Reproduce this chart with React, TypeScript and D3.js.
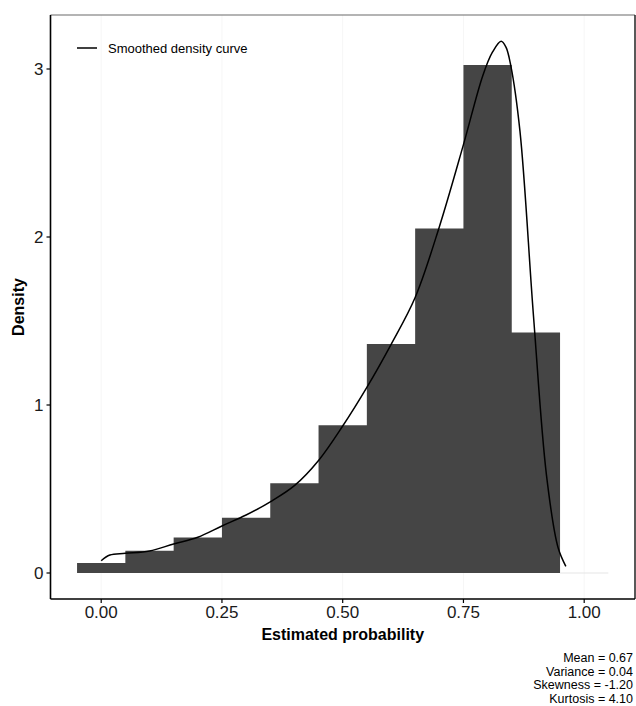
import React from "react";
import * as d3 from "d3";

const binStarts = [-0.05, 0.05, 0.15, 0.25, 0.35, 0.45, 0.55, 0.65, 0.75, 0.85, 0.95];
const binDensity = [0.06, 0.133, 0.212, 0.329, 0.534, 0.879, 1.363, 2.05, 3.024, 1.432, 0];
const binWidth = 0.1;

const curveX = [0.0, 0.018, 0.05, 0.1, 0.15, 0.2, 0.25, 0.3, 0.35, 0.4, 0.45, 0.5, 0.55, 0.6, 0.65, 0.7, 0.75, 0.79, 0.81, 0.828, 0.838, 0.848, 0.867, 0.895, 0.922, 0.946, 0.962];
const curveY = [0.073, 0.107, 0.117, 0.131, 0.173, 0.213, 0.28, 0.345, 0.424, 0.52, 0.67, 0.875, 1.105, 1.36, 1.64, 2.06, 2.55, 2.96, 3.1, 3.165, 3.13, 3.02, 2.63, 1.53, 0.58, 0.15, 0.04];

const xTicks = [0, 0.25, 0.5, 0.75, 1.0];
const xTickLabels = ["0.00", "0.25", "0.50", "0.75", "1.00"];
const yTicks = [0, 1, 2, 3];
const statsLines = ["Mean = 0.67", "Variance = 0.04", "Skewness = -1.20", "Kurtosis = 4.10"];
const legendLabel = "Smoothed density curve";

const W = 636, H = 706;
const panel = { left: 50.5, right: 635, top: 15, bottom: 599 };
const FONT = "'Liberation Sans', Arial, sans-serif";

export default function App() {
  const x = d3.scaleLinear().domain([0, 1]).range([101.2, 584.2]);
  const y = d3.scaleLinear().domain([0, 3]).range([573, 69]);
  const line = d3
    .line<number>()
    .x((_, i) => x(curveX[i]))
    .y((d) => y(d))
    .curve(d3.curveCatmullRom.alpha(0.5));

  // histogram as a single step area to avoid seams between bars
  const filled = binStarts.map((s, i) => ({ s, d: binDensity[i] })).filter((b) => b.d > 0);
  const steps: [number, number][] = [];
  filled.forEach((b) => {
    steps.push([b.s, b.d]);
    steps.push([b.s + binWidth, b.d]);
  });
  const area = d3
    .area<[number, number]>()
    .x((p) => x(p[0]))
    .y0(y(0))
    .y1((p) => y(p[1]));
  const emptyBins = binStarts.map((s, i) => ({ s, d: binDensity[i] })).filter((b) => b.d === 0);

  return (
    <svg width={W} height={H} style={{ position: "absolute", left: 0, top: 0 }} fontFamily={FONT}>
      <rect x={0} y={0} width={W} height={H} fill="#ffffff" />
      {/* faint grid */}
      {xTicks.map((t) => (
        <line key={"g" + t} x1={x(t)} x2={x(t)} y1={panel.top} y2={panel.bottom} stroke="#f6f6f6" strokeWidth={1} />
      ))}
      {/* bars */}
      <path d={area(steps) || ""} fill="#454545" />
      {emptyBins.map((b) => (
        <line key={"e" + b.s} x1={x(b.s)} x2={x(b.s + binWidth)} y1={y(0)} y2={y(0)} stroke="#e6e6e6" strokeWidth={1.2} />
      ))}
      {/* density curve */}
      <path d={line(curveY) || ""} fill="none" stroke="#000" strokeWidth={1.5} />
      {/* panel border */}
      <line x1={panel.left} x2={panel.right} y1={panel.top} y2={panel.top} stroke="#6a6a6a" strokeWidth={1.2} />
      <line x1={panel.right} x2={panel.right} y1={panel.top} y2={panel.bottom} stroke="#222" strokeWidth={1.5} />
      <line x1={panel.left} x2={panel.left} y1={panel.top} y2={panel.bottom} stroke="#000" strokeWidth={1.6} />
      <line x1={panel.left} x2={panel.right} y1={panel.bottom} y2={panel.bottom} stroke="#000" strokeWidth={1.6} />
      {/* y ticks */}
      {yTicks.map((t) => (
        <g key={"y" + t}>
          <line x1={panel.left - 4} x2={panel.left} y1={y(t)} y2={y(t)} stroke="#000" strokeWidth={1.2} />
          <text x={panel.left - 7} y={y(t)} dy="0.36em" textAnchor="end" fontSize={17} fill="#1a1a1a">
            {t}
          </text>
        </g>
      ))}
      {/* x ticks */}
      {xTicks.map((t, i) => (
        <g key={"x" + t}>
          <line x1={x(t)} x2={x(t)} y1={panel.bottom} y2={panel.bottom + 4} stroke="#000" strokeWidth={1.2} />
          <text x={x(t)} y={panel.bottom + 19} textAnchor="middle" fontSize={17} fill="#1a1a1a">
            {xTickLabels[i]}
          </text>
        </g>
      ))}
      {/* axis titles */}
      <text x={(panel.left + panel.right) / 2} y={640} textAnchor="middle" fontSize={16} fontWeight="bold" fill="#000">
        Estimated probability
      </text>
      <text
        transform={`translate(24, ${(panel.top + panel.bottom) / 2}) rotate(-90)`}
        textAnchor="middle"
        fontSize={16}
        fontWeight="bold"
        fill="#000"
      >
        Density
      </text>
      {/* legend */}
      <line x1={77} x2={97} y1={48} y2={48} stroke="#000" strokeWidth={1.5} />
      <text x={108} y={48} dy="0.35em" fontSize={13} fill="#000">
        {legendLabel}
      </text>
      {/* stats */}
      {statsLines.map((s, i) => (
        <text key={s} x={633} y={662 + i * 13.5} textAnchor="end" fontSize={12.5} fill="#000">
          {s}
        </text>
      ))}
    </svg>
  );
}
